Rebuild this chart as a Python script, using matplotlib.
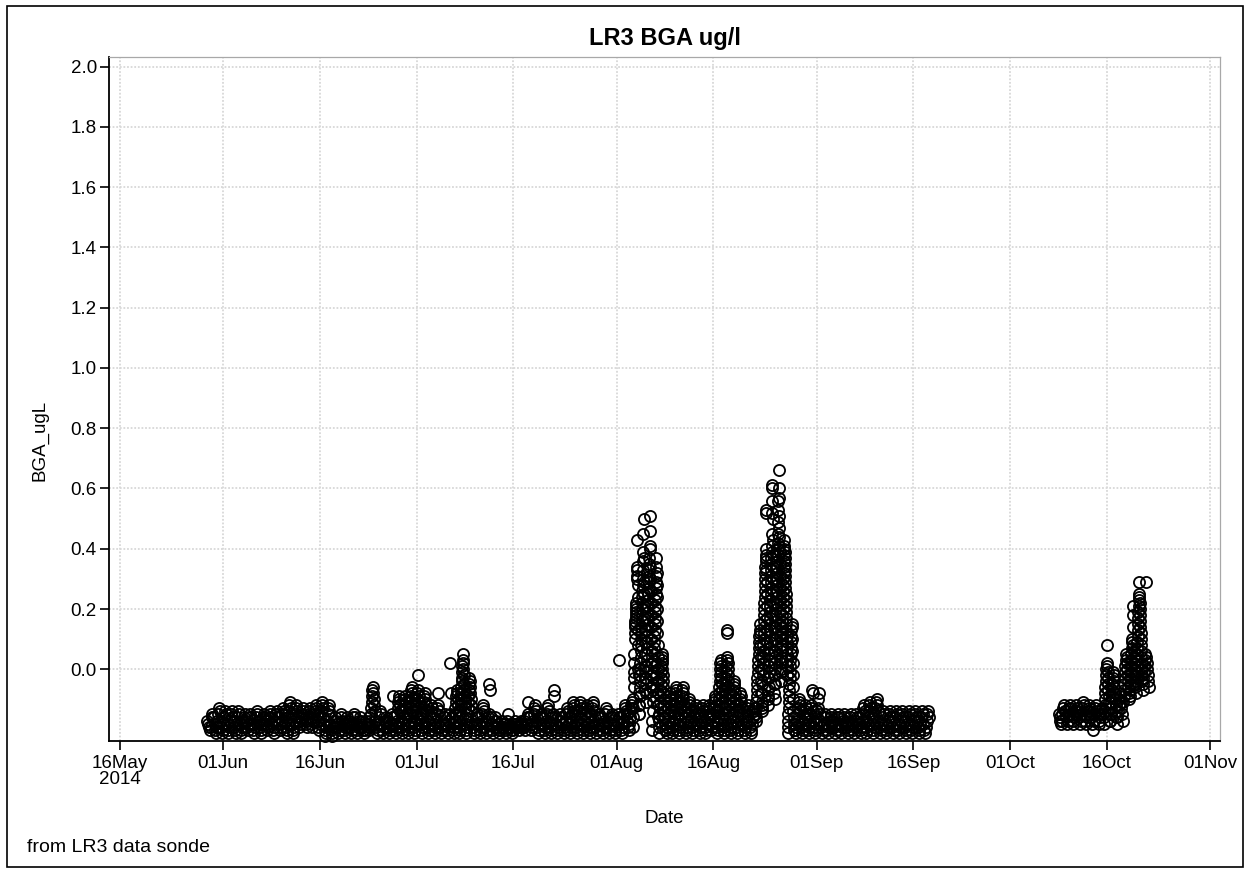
import matplotlib
matplotlib.use("Agg")
import matplotlib.pyplot as plt
import matplotlib.dates as mdates
from matplotlib.patches import Rectangle
from matplotlib.ticker import FixedLocator, FixedFormatter

plt.rcParams['font.family'] = ['Liberation Sans', 'DejaVu Sans']

# Sonde readings, BGA in units of 0.01 ug/L, one row per 24 h window (noon to noon)
summer_start = "2014-05-29 12:00"
summer_readings = [
    # late May
    "-17 -18 -19 -20 -19 -16 -15 -16",
    "-16 -18 -20 -21 -19 -17 -15 -13 -14",
    # June
    "-17 -19 -21 -20 -18 -16 -14 -15",
    "-18 -20 -21 -19 -17 -15 -14 -16",
    "-17 -19 -20 -21 -18 -16 -14 -15",
    "-18 -20 -21 -19 -17 -16 -15 -17",
    "-17 -19 -20 -18 -16 -15 -16 -18",
    "-18 -20 -21 -19 -16 -14 -15 -17",
    "-17 -19 -21 -20 -18 -16 -15 -16",
    "-17 -18 -20 -19 -16 -14 -15 -16",
    "-18 -20 -21 -19 -17 -15 -14 -16",
    "-16 -18 -20 -19 -17 -15 -13 -14",
    "-15 -17 -19 -21 -20 -18 -16 -14 -12 -11 -13",
    "-16 -18 -20 -21 -19 -17 -15 -13 -12 -14",
    "-16 -17 -19 -18 -16 -15 -13 -14",
    "-15 -17 -18 -19 -17 -16 -14 -13",
    "-16 -18 -19 -17 -15 -14 -12 -13",
    "-15 -17 -19 -20 -18 -16 -14 -12 -11 -13",
    "-16 -18 -20 -22 -21 -19 -17 -15 -13 -12 -14",
    "-18 -20 -22 -21 -19 -17 -16 -17",
    "-18 -19 -21 -20 -18 -16 -15 -17",
    "-18 -20 -21 -19 -17 -16 -17 -18",
    "-17 -19 -21 -20 -18 -16 -15 -16",
    "-18 -20 -21 -19 -17 -16 -17 -19",
    "-19 -20 -21 -20 -18 -17 -18 -19",
    "-16 -18 -20 -19 -17 -15 -13 -11 -9 -7 -6 -8 -10 -12 -14",
    "-17 -19 -21 -20 -18 -16 -14 -15",
    "-18 -20 -21 -19 -17 -16 -17 -19",
    "-17 -19 -21 -20 -18 -16 -15 -9 -16",
    "-16 -18 -20 -21 -19 -17 -15 -13 -11 -9 -10 -12 -14",
    "-17 -19 -21 -20 -18 -16 -14 -12 -10 -9 -11 -13 -15",
    "-16 -18 -20 -21 -19 -17 -15 -13 -11 -9 -7 -6 -8 -10 -12 -14",
    # July
    "-17 -19 -21 -20 -18 -16 -14 -12 -10 -8 -7 -2 -9 -11 -13 -15",
    "-16 -18 -20 -21 -19 -17 -15 -13 -11 -9 -8 -10 -12 -14",
    "-17 -19 -21 -20 -18 -16 -14 -12 -13 -15",
    "-16 -18 -20 -21 -19 -17 -15 -13 -12 -8 -14",
    "-17 -19 -21 -20 -18 -16 -15 -16",
    "-18 -20 -21 -19 -17 -15 2 -8 -16",
    "-16 -18 -20 -21 -19 -17 -15 -13 -11 -9 -7 -8 -10 -12 -14",
    "-15 -17 -19 -21 -20 -18 -16 -14 -12 -10 -8 -6 -4 -3 -1 1 2 3 5 0 -2 -5 -7 -9 -11 -13",
    "-16 -18 -20 -21 -19 -17 -15 -13 -11 -9 -7 -5 -3 -4 -6 -8 -10 -12 -14",
    "-17 -19 -21 -20 -18 -16 -15 -16",
    "-16 -18 -20 -21 -19 -17 -15 -13 -12 -14",
    "-17 -19 -21 -20 -18 -16 -15 -5 -7 -16",
    "-18 -20 -21 -19 -17 -16 -17 -19",
    "-18 -20 -21 -20 -19 -17 -18 -19",
    "-18 -20 -21 -19 -17 -15 -18 -19",
    "-19 -20 -21 -20 -18 -17 -18 -19",
    "-18 -19 -20 -19 -18 -17 -18 -19",
    "-17 -19 -20 -18 -16 -15 -11 -16",
    "-16 -18 -20 -19 -17 -15 -13 -12 -14",
    "-17 -19 -21 -20 -18 -16 -15 -16",
    "-16 -18 -20 -21 -19 -17 -15 -13 -12 -14",
    "-17 -19 -21 -20 -18 -16 -15 -7 -9 -16",
    "-18 -20 -21 -19 -17 -15 -16 -17",
    "-16 -18 -20 -21 -19 -17 -15 -13 -14",
    "-16 -18 -20 -21 -19 -17 -15 -13 -11 -12 -14",
    "-15 -17 -19 -21 -20 -18 -16 -14 -12 -11 -13",
    "-16 -18 -20 -21 -19 -17 -15 -13 -12 -14",
    "-16 -18 -20 -21 -19 -17 -15 -13 -11 -12 -14",
    "-17 -19 -21 -20 -18 -16 -15 -16",
    "-16 -18 -20 -21 -19 -17 -15 -13 -14",
    "-17 -19 -21 -20 -18 -16 -15 -16",
    # August
    "-18 -20 -21 -19 -17 -15 3 -16",
    "-16 -18 -20 -21 -19 -17 -15 -13 -12 -14",
    "-15 -17 -19 -20 -18 -16 -14 -12 -11 -13",
    "-19 -16 -13 -10 -6 -3 -1 2 5 10 12 14 15 16 17 18 19 20 21 22 30 31 33 34 43 28 24 13 8 0 -2 -8 -12 -15",
    "-15 -12 -9 -6 -4 -2 0 2 4 6 8 10 12 14 16 18 20 22 24 26 28 30 33 36 39 45 50 37 29 25 21 17 13 9 5 1 -3 -7 -11",
    "-8 -5 -3 -1 1 3 5 7 9 11 13 15 17 19 21 23 25 27 29 31 33 35 37 40 46 51 41 34 30 26 22 18 14 10 6 2 -2 -6",
    "-20 -17 -14 -11 -9 -7 -5 -3 -1 1 3 5 7 9 11 13 15 17 19 21 23 25 27 29 31 34 37 32 28 24 20 16 12 8 4 0 -4 -8 -12 -16",
    "-21 -19 -17 -15 -13 -11 -9 -7 -5 -3 -1 1 3 5 4 2 0 -2 -4 -6 -8 -10 -12 -14 -16 -18 -20",
    "-16 -18 -20 -21 -19 -17 -15 -13 -11 -9 -8 -10 -12 -14",
    "-17 -19 -21 -20 -18 -16 -14 -12 -10 -8 -6 -7 -9 -11 -13 -15",
    "-16 -18 -20 -21 -19 -17 -15 -13 -11 -9 -7 -6 -8 -10 -12 -14",
    "-16 -18 -20 -21 -19 -17 -15 -13 -11 -10 -12 -14",
    "-17 -19 -21 -20 -18 -16 -14 -12 -13 -15",
    "-16 -18 -20 -21 -19 -17 -15 -13 -12 -14",
    "-17 -19 -21 -20 -18 -16 -14 -12 -13 -15",
    "-16 -18 -20 -19 -17 -15 -13 -11 -9 -10 -12 -14",
    "-17 -19 -21 -20 -18 -16 -14 -12 -10 -8 -6 -4 -2 0 2 3 1 -1 -3 -5 -7 -9 -11 -13 -15",
    "-16 -18 -20 -21 -19 -17 -15 -13 -11 -9 -7 -5 -3 -1 1 3 4 13 12 2 0 -2 -4 -6 -8 -10 -12 -14",
    "-16 -18 -20 -21 -19 -17 -15 -13 -11 -9 -7 -5 -4 -6 -8 -10 -12 -14",
    "-17 -19 -21 -20 -18 -16 -14 -12 -10 -8 -9 -11 -13 -15",
    "-16 -18 -20 -21 -19 -17 -15 -13 -12 -14",
    "-17 -19 -21 -20 -18 -16 -14 -13 -15",
    "-15 -17 -16 -13 -11 -9 -7 -5 -3 -1 1 3 5 7 9 11 13 15 12 8 4 0 -4 -8 -12",
    "-13 -14 -11 -8 -5 -2 0 2 4 6 8 10 12 14 16 18 20 22 24 26 28 30 32 34 36 38 40 53 52 37 33 29 25 21 17 13 9 5 1 -3 -7 -10",
    "-12 -9 -6 -3 -1 1 3 5 7 9 11 13 15 17 19 21 23 25 27 29 31 33 35 37 39 41 45 52 60 61 56 50 43 38 34 30 26 22 18 14 10 6 2 -2 -5 -8 -10",
    "-5 -2 0 2 4 6 8 10 12 14 16 18 20 22 24 26 28 30 32 34 36 38 40 42 45 49 53 56 60 66 57 51 47 44 41 39 35 31 27 23 19 15 11 7 3 -1 -4",
    "0 2 4 6 8 10 12 14 16 18 20 22 24 26 28 30 32 34 36 38 40 43 41 39 37 35 33 31 29 27 25 23 21 19 17 15 13 11 9 7 5 3 1 -2",
    "-21 -19 -17 -15 -13 -11 -9 -7 -5 -3 -1 1 3 5 7 9 11 13 15 14 10 6 2 -2 -6 -10 -14 -18 -20",
    "-16 -18 -20 -21 -19 -17 -15 -13 -11 -10 -12 -14",
    "-17 -19 -21 -20 -18 -16 -14 -12 -13 -15",
    "-16 -18 -20 -21 -19 -17 -15 -13 -12 -7 -8 -14",
    # September
    "-17 -19 -21 -20 -18 -16 -14 -13 -10 -8 -15",
    "-17 -19 -21 -20 -18 -16 -15 -16",
    "-18 -20 -21 -19 -17 -15 -16 -17",
    "-17 -19 -21 -20 -18 -16 -15 -16",
    "-18 -20 -21 -19 -17 -15 -16 -18",
    "-17 -19 -21 -20 -18 -16 -15 -17",
    "-18 -20 -21 -19 -17 -15 -16 -18",
    "-16 -18 -20 -21 -19 -17 -15 -13 -12 -14",
    "-17 -19 -21 -20 -18 -16 -14 -12 -11 -13 -15",
    "-16 -18 -20 -21 -19 -17 -15 -13 -11 -10 -12 -14",
    "-17 -19 -21 -20 -18 -16 -14 -15",
    "-18 -20 -21 -19 -17 -15 -14 -16",
    "-17 -19 -21 -20 -18 -16 -14 -15",
    "-18 -20 -21 -19 -17 -15 -14 -16",
    "-17 -19 -21 -20 -18 -16 -14 -15",
    "-18 -20 -21 -19 -17 -15 -14 -16",
    "-17 -19 -21 -20 -18 -16 -14 -15",
    "-18 -20 -21 -19 -17 -15 -14 -16",
]

autumn_start = "2014-10-08 12:00"
autumn_readings = [
    "-15 -16 -17 -18 -17 -15 -13 -12 -14",
    "-14 -16 -18 -17 -15 -13 -12 -13",
    "-15 -17 -18 -16 -14 -12 -13 -14",
    "-14 -16 -18 -17 -15 -13 -11 -12",
    "-15 -17 -18 -16 -14 -12 -13 -14",
    "-16 -18 -20 -17 -15 -13 -12 -14",
    "-15 -17 -18 -16 -14 -13 -15",
    "-18 -16 -14 -12 -10 -8 -6 -4 -2 0 1 8 2 -1 -3 -5 -7 -9 -11 -13 -15 -17",
    "-17 -15 -13 -11 -9 -7 -5 -3 -1 -2 -4 -6 -8 -10 -12 -14 -16",
    "-18 -16 -14 -12 -10 -8 -9 -11 -13 -15 -17",
    "-11 -9 -7 -5 -3 -1 1 3 5 4 2 0 -2 -4 -6 -8 -10",
    "-9 -7 -5 -3 -1 1 3 5 7 9 10 14 18 21 8 6 4 2 0 -2 -4 -6 -8",
    "-5 -3 -1 1 3 5 7 9 11 13 15 17 19 21 23 25 29 24 22 20 18 16 14 12 10 8 6 4 2 0 -2 -4",
    "-7 -5 -3 -1 1 3 5 29 4 2 0 -2 -4 -6",
]

tick_dates = ["2014-05-16", "2014-06-01", "2014-06-16", "2014-07-01",
              "2014-07-16", "2014-08-01", "2014-08-16", "2014-09-01",
              "2014-09-16", "2014-10-01", "2014-10-16", "2014-11-01"]
tick_labels = ["16May\n2014", "01Jun", "16Jun", "01Jul", "16Jul", "01Aug",
               "16Aug", "01Sep", "16Sep", "01Oct", "16Oct", "01Nov"]
y_ticks = [0.0, 0.2, 0.4, 0.6, 0.8, 1.0, 1.2, 1.4, 1.6, 1.8, 2.0]
y_tick_labels = ["0.0", "0.2", "0.4", "0.6", "0.8", "1.0",
                 "1.2", "1.4", "1.6", "1.8", "2.0"]


def to_series(start, rows):
    """Spread each window's readings evenly over its 24 hours."""
    t0 = mdates.datestr2num(start)
    times, values = [], []
    for k, row in enumerate(rows):
        vals = [int(s) / 100.0 for s in row.split()]
        n = len(vals)
        for i, val in enumerate(vals):
            times.append(t0 + k + (i + 0.5) / n)
            values.append(val)
    return times, values


fig = plt.figure(figsize=(12.5, 8.71), dpi=100)
W, H = 1250, 871
ax = fig.add_axes([109.3 / W, 1 - 741 / H, (1220 - 109.3) / W, (741 - 56.7) / H])

for start, rows in ((summer_start, summer_readings), (autumn_start, autumn_readings)):
    t, v = to_series(start, rows)
    ax.plot(t, v, linestyle='none', marker='o', markersize=8.0,
            markerfacecolor='none', markeredgecolor='black',
            markeredgewidth=1.3, zorder=3, clip_on=False)

tick_nums = [mdates.datestr2num(d) for d in tick_dates]
ax.set_xlim(tick_nums[0] - 1.66, tick_nums[-1] + 1.55)
ax.set_ylim(-0.238, 2.033)

ax.xaxis.set_major_locator(FixedLocator(tick_nums))
ax.xaxis.set_major_formatter(FixedFormatter(tick_labels))
ax.yaxis.set_major_locator(FixedLocator(y_ticks))
ax.yaxis.set_major_formatter(FixedFormatter(y_tick_labels))

ax.grid(True, color='#d8d8d8', linestyle=(0, (1.0, 1.0)), linewidth=1.3, zorder=0)
ax.set_axisbelow(True)

ax.tick_params(axis='both', direction='out', length=6.5, width=1.2,
               color='black', labelsize=13.5, labelcolor='black')
ax.tick_params(axis='y', pad=2.5)
ax.tick_params(axis='x', pad=3.5)
for lbl in ax.get_xticklabels():
    lbl.set_multialignment('center')
    lbl.set_linespacing(0.95)

ax.spines['left'].set_color('black')
ax.spines['bottom'].set_color('black')
ax.spines['left'].set_linewidth(1.3)
ax.spines['bottom'].set_linewidth(1.3)
ax.spines['top'].set_color('#a8a8a8')
ax.spines['right'].set_color('#a8a8a8')
ax.spines['top'].set_linewidth(0.9)
ax.spines['right'].set_linewidth(0.9)

fig.text(664.6 / W, 1 - 38 / H, "LR3 BGA ug/l", ha='center', va='center',
         fontsize=17, fontweight='bold')
fig.text(40 / W, 1 - 440 / H, "BGA_ugL", ha='center', va='center',
         rotation=90, fontsize=13.5)
fig.text(664.6 / W, 1 - 818 / H, "Date", ha='center', va='center', fontsize=13.5)
fig.text(27 / W, 1 - 847 / H, "from LR3 data sonde", ha='left', va='center',
         fontsize=14)

fig.patches.append(Rectangle((7 / W, 1 - 867 / H), (1243 - 7) / W, (867 - 6) / H,
                             fill=False, edgecolor='black', linewidth=1.2,
                             transform=fig.transFigure, figure=fig))

fig.savefig("out.png", dpi=100)
